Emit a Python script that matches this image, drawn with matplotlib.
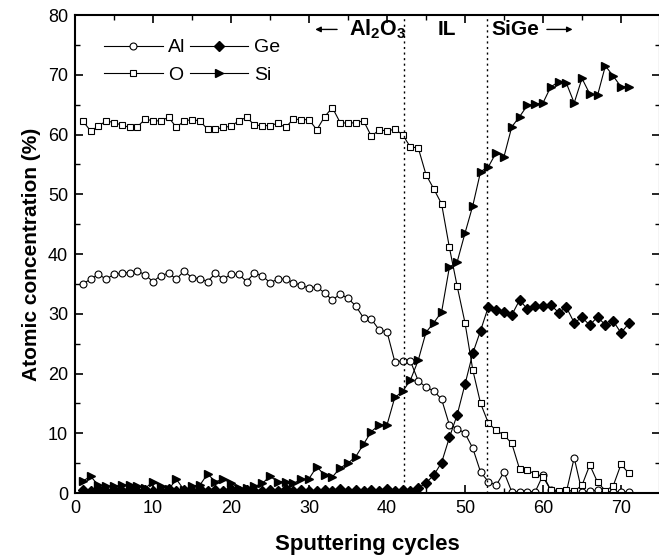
#!/usr/bin/python

'''
	XPS depth profile: Al, O, Ge, Si vs sputtering cycles.
'''

import numpy as np
import matplotlib
matplotlib.use('Agg')
import matplotlib.pyplot as plt
from matplotlib.ticker import MultipleLocator

plt.rcParams['font.family'] = ['Liberation Sans', 'DejaVu Sans']
plt.rcParams['mathtext.fontset'] = 'custom'
plt.rcParams['mathtext.bf'] = 'Liberation Sans:bold'
plt.rcParams['mathtext.rm'] = 'Liberation Sans'

cycles = list(range(1, 72))

al = [35.0, 35.8, 36.6, 35.8, 36.6, 36.8, 36.9, 37.2, 36.5, 35.4,
	36.4, 36.8, 35.8, 37.2, 36.0, 35.9, 35.4, 36.8, 35.8, 36.6,
	36.6, 35.4, 36.8, 36.4, 35.2, 35.8, 35.8, 35.2, 34.8, 34.3,
	34.5, 33.5, 32.3, 33.3, 32.6, 31.3, 29.3, 29.1, 27.3, 27.0,
	22.0, 22.1, 22.1, 18.8, 17.7, 17.1, 15.7, 11.4, 10.8, 10.0,
	7.5, 3.5, 1.9, 1.3, 3.5, 0.2, 0.2, 0.2, 0.2, 3.0,
	0.5, 0.2, 0.2, 5.9, 0.2, 0.3, 0.5, 0.2, 0.2, 0.2, 0.2]

o = [62.3, 60.6, 61.4, 62.3, 62.0, 61.6, 61.2, 61.3, 62.6, 62.3,
	62.3, 62.9, 61.2, 62.3, 62.5, 62.3, 60.9, 60.9, 61.2, 61.4,
	62.3, 62.9, 61.6, 61.5, 61.5, 61.9, 61.2, 62.6, 62.5, 62.5,
	60.8, 63.0, 64.5, 62.0, 61.9, 62.0, 62.3, 59.7, 60.8, 60.6,
	60.9, 60.0, 57.9, 57.8, 53.3, 50.9, 48.4, 41.1, 34.6, 28.5,
	20.6, 15.0, 11.7, 10.5, 9.7, 8.3, 4.0, 3.8, 3.2, 2.7,
	0.5, 0.4, 0.5, 0.3, 1.3, 4.7, 1.8, 0.4, 1.2, 4.8, 3.3]

ge = [0.5, 0.3, 0.6, 0.4, 0.5, 0.3, 0.6, 0.4, 0.5, 0.3,
	0.4, 0.6, 0.3, 0.5, 0.4, 0.6, 0.3, 0.5, 0.4, 0.6,
	0.3, 0.5, 0.4, 0.3, 0.5, 0.4, 0.6, 0.3, 0.5, 0.4,
	0.3, 0.5, 0.4, 0.6, 0.3, 0.5, 0.4, 0.5, 0.3, 0.6,
	0.4, 0.5, 0.4, 0.8, 1.7, 3.0, 5.1, 9.3, 13.1, 18.2,
	23.4, 27.2, 31.2, 30.7, 30.3, 29.8, 32.3, 30.8, 31.3, 31.3,
	31.5, 30.2, 31.1, 28.5, 29.4, 28.1, 29.5, 28.1, 28.8, 26.8, 28.4]

si = [2.0, 2.8, 1.3, 1.2, 1.1, 1.3, 1.4, 1.1, 0.8, 1.9,
	1.2, 0.6, 2.3, 0.5, 1.2, 1.3, 3.2, 1.9, 2.3, 1.7,
	0.8, 0.8, 1.1, 1.6, 2.8, 1.9, 1.9, 1.6, 2.3, 2.4,
	4.4, 3.0, 2.7, 4.2, 5.0, 6.1, 8.2, 10.3, 11.4, 11.4,
	16.0, 17.0, 18.9, 22.2, 26.9, 28.5, 30.3, 37.8, 38.7, 43.5,
	48.1, 53.8, 54.6, 57.0, 56.3, 61.3, 63.0, 64.9, 65.1, 65.3,
	68.0, 68.8, 68.6, 65.3, 69.4, 66.8, 66.6, 71.5, 69.8, 68.0, 68.0]

boundaries = [42.2, 52.8]


def plotData():
	fig = plt.figure(figsize=(6.59, 5.59), dpi=100)
	ax = fig.add_axes([0.1138, 0.118, 0.8877, 0.855])

	lw = 0.8
	l_al, = ax.plot(cycles, al, '-', color='black', lw=lw, marker='o', ms=5,
		mfc='white', mec='black', mew=0.8, label='Al')
	l_o, = ax.plot(cycles, o, '-', color='black', lw=lw, marker='s', ms=5,
		mfc='white', mec='black', mew=0.8, label='O')
	l_ge, = ax.plot(cycles, ge, '-', color='black', lw=lw, marker='D', ms=5.5,
		mfc='black', mec='black', label='Ge')
	l_si, = ax.plot(cycles, si, '-', color='black', lw=lw, marker='>', ms=6.3,
		mfc='black', mec='black', label='Si')

	for b in boundaries:
		ax.axvline(b, color='black', lw=1.0, ls=(0, (1.5, 2.5)))

	ax.set_xlim(0, 75)
	ax.set_ylim(0, 80)
	ax.xaxis.set_major_locator(MultipleLocator(10))
	ax.xaxis.set_minor_locator(MultipleLocator(5))
	ax.yaxis.set_major_locator(MultipleLocator(10))
	ax.yaxis.set_minor_locator(MultipleLocator(5))
	ax.tick_params(which='both', direction='in', top=True, right=True, labelsize=13)
	ax.tick_params(which='major', length=6, width=1.2, pad=5)
	ax.tick_params(which='minor', length=3.5, width=1.0)
	for s in ax.spines.values():
		s.set_linewidth(1.5)

	ax.set_xlabel('Sputtering cycles', fontsize=16, fontweight='bold', labelpad=12)
	ax.set_ylabel('Atomic concentration (%)', fontsize=15, fontweight='bold', labelpad=5)

	ax.legend([l_al, l_o, l_ge, l_si], ['Al', 'O', 'Ge', 'Si'], ncol=2,
		frameon=False, fontsize=14, handlelength=3.0, handletextpad=0.3,
		columnspacing=0.2, labelspacing=0.5, loc='upper left',
		bbox_to_anchor=(0.03, 0.975), borderaxespad=0.2)

	# region labels
	ty = 77.6
	ax.annotate('', xy=(30.8, ty), xytext=(33.6, ty),
		arrowprops=dict(arrowstyle='-|>', color='black', lw=1.0,
		mutation_scale=8, shrinkA=0, shrinkB=0))
	ax.text(35.1, ty, r'$\mathbf{Al_2O_3}$', fontsize=15.5, ha='left', va='center')
	ax.text(47.7, ty, 'IL', fontsize=15, fontweight='bold', ha='center', va='center')
	ax.text(53.4, ty, 'SiGe', fontsize=15, fontweight='bold', ha='left', va='center')
	ax.annotate('', xy=(63.8, ty), xytext=(60.5, ty),
		arrowprops=dict(arrowstyle='-|>', color='black', lw=1.0,
		mutation_scale=8, shrinkA=0, shrinkB=0))

	fig.savefig('out.png', dpi=100)


def main():
	plotData()


if __name__ == '__main__':
	main()
